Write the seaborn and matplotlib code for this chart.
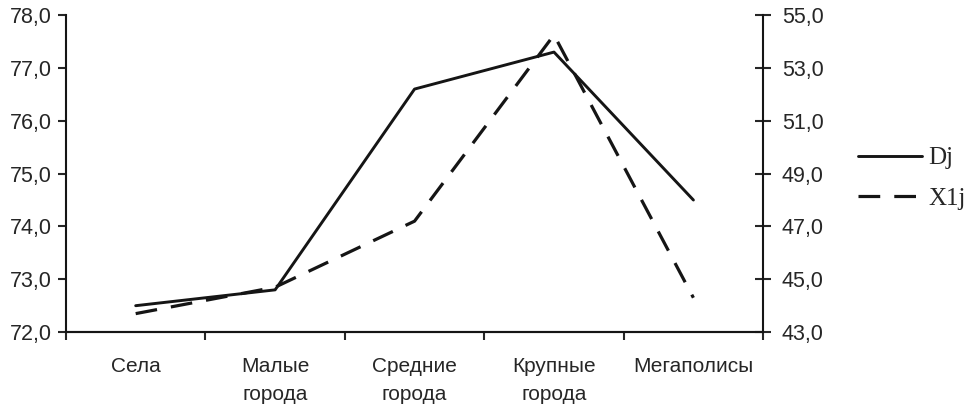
import matplotlib.pyplot as plt
import seaborn as sns
import numpy as np

sns.set_style("white")
plt.rcParams["font.family"] = ["Liberation Sans", "DejaVu Sans"]

# data
categories = ["Села", "Малые\nгорода", "Средние\nгорода", "Крупные\nгорода", "Мегаполисы"]
dj = [72.5, 72.8, 76.6, 77.3, 74.5]
x1j = [43.7, 44.7, 47.2, 54.25, 44.3]
left_ticks = [72, 73, 74, 75, 76, 77, 78]
right_ticks = [43, 45, 47, 49, 51, 53, 55]

pos = np.arange(len(categories))

fig = plt.figure(figsize=(9.73, 4.08), dpi=100)
ax = fig.add_axes([0.0678, 0.186, 0.7165, 0.777])
ax2 = ax.twinx()

sns.lineplot(x=pos, y=dj, ax=ax, color="#151515", linewidth=2.1, label="Dj", legend=False)
sns.lineplot(x=pos, y=x1j, ax=ax2, color="#151515", linewidth=2.3, label="X1j", legend=False)
ax2.lines[0].set_dashes([6.8, 4.4])

ax.set_xlim(-0.5, len(categories) - 0.5)
ax.set_ylim(72, 78)
ax2.set_ylim(43, 55)

fmt = lambda v: f"{v:.1f}".replace(".", ",")
ax.set_yticks(left_ticks)
ax.set_yticklabels([fmt(v) for v in left_ticks])
ax2.set_yticks(right_ticks)
ax2.set_yticklabels([fmt(v) for v in right_ticks])

# ticks at category boundaries, labels in the middle
ax.set_xticks(np.arange(len(categories) + 1) - 0.5)
ax.set_xticklabels([])
ax.set_xticks(pos, minor=True)
ax.set_xticklabels(categories, minor=True)
ax.tick_params(axis="x", which="major", direction="out", length=6, width=1.5, bottom=True)
ax.tick_params(axis="x", which="minor", length=0, pad=18, labelsize=15)
ax.tick_params(axis="y", direction="out", length=6, width=1.5, left=True, labelsize=15.5, pad=4)
ax2.tick_params(axis="y", direction="inout", length=11, width=1.5, right=True, labelsize=15.5, pad=8)

for a in (ax, ax2):
    a.spines["top"].set_visible(False)
    for s in ("left", "right", "bottom"):
        a.spines[s].set_linewidth(1.5)
        a.spines[s].set_color("#151515")
    a.set_xlabel("")
    a.set_ylabel("")
    a.grid(False)
ax.spines["right"].set_visible(False)
ax2.spines["left"].set_visible(False)

for t in ax.get_xticklabels(minor=True):
    t.set_linespacing(1.6)

handles = ax.lines[:1] + ax2.lines[:1]
fig.legend(handles, ["Dj", "X1j"], loc="center left", bbox_to_anchor=(0.882, 0.563),
           frameon=False, borderpad=0, borderaxespad=0, handlelength=2.55,
           handletextpad=0.25, labelspacing=0.72,
           prop={"family": "Liberation Serif", "size": 18})

fig.savefig("out.png", dpi=100)
